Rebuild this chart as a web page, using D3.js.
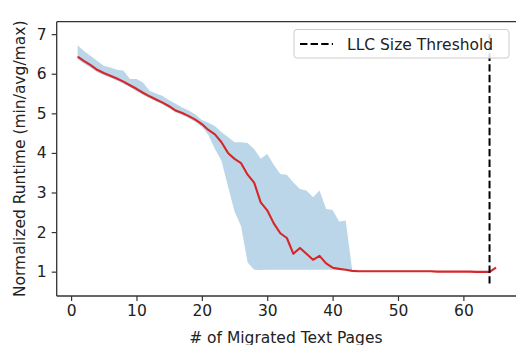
<!DOCTYPE html>
<html><head><meta charset="utf-8">
<script src="https://cdn.jsdelivr.net/npm/d3@7"></script>
<style>
html,body{margin:0;padding:0;background:#fff;}
svg{display:block;font-family:"DejaVu Sans",sans-serif;}
</style></head>
<body>
<svg id="c" width="516" height="345"></svg>
<script>
const pages = d3.range(1, 66);
const avgRuntime = [6.43,6.32,6.22,6.10,6.02,5.95,5.88,5.80,5.71,5.62,
  5.52,5.43,5.35,5.27,5.18,5.07,5.01,4.93,4.84,4.73,
  4.58,4.47,4.27,4.00,3.85,3.74,3.45,3.25,2.75,2.55,
  2.22,1.97,1.85,1.45,1.60,1.45,1.30,1.40,1.21,1.10,
  1.07,1.05,1.02,1.01,1.01,1.01,1.01,1.01,1.01,1.01,
  1.01,1.01,1.01,1.01,1.01,1.00,1.00,1.00,1.00,1.00,
  1.00,0.995,0.995,0.995,1.10];
const maxRuntime = [6.72,6.57,6.45,6.32,6.20,6.16,6.10,6.08,5.87,5.87,
  5.78,5.57,5.50,5.44,5.33,5.24,5.15,5.07,4.97,4.83,
  4.76,4.68,4.52,4.40,4.27,4.27,4.25,4.10,3.85,3.97,
  3.70,3.47,3.45,3.25,3.09,3.05,2.88,3.05,2.58,2.56,
  2.27,2.29,1.03,1.02,1.02,1.02,1.02,1.02,1.02,1.02,
  1.02,1.02,1.02,1.02,1.02,1.01,1.01,1.01,1.01,1.01,
  1.01,1.00,1.00,1.00,1.11];
const minRuntime = [6.37,6.25,6.15,6.04,5.96,5.90,5.83,5.75,5.66,5.56,
  5.46,5.38,5.30,5.22,5.13,5.02,4.96,4.88,4.78,4.66,
  4.45,4.10,3.80,3.15,2.52,2.15,1.23,1.05,1.04,1.05,
  1.05,1.05,1.05,1.05,1.05,1.05,1.05,1.05,1.05,1.05,
  1.05,1.04,1.01,1.00,1.00,1.00,1.00,1.00,1.00,1.00,
  1.00,1.00,1.00,1.00,1.00,0.99,0.99,0.99,0.99,0.99,
  0.99,0.99,0.99,0.99,1.09];
const xTicks = [0,10,20,30,40,50,60];
const yTicks = [1,2,3,4,5,6,7];
const threshold = 64;
const thresholdRange = [0.7, 7.0];
const legendLabel = "LLC Size Threshold";
const xLabel = "# of Migrated Text Pages";
const yLabel = "Normalized Runtime (min/avg/max)";

const svg = d3.select("#c");
const L = 56.7, R = 517, T = 21.7, B = 296;
const x = d3.scaleLinear().domain([-2.2, 68.2]).range([L, R]);
const y = d3.scaleLinear().domain([0.385, 7.315]).range([B, T]);
const fs = 15.5;
const txt = "#222";

const data = pages.map((p,i)=>({p, a:avgRuntime[i], lo:minRuntime[i], hi:maxRuntime[i]}));

svg.append("path").datum(data)
  .attr("d", d3.area().x(d=>x(d.p)).y0(d=>y(d.lo)).y1(d=>y(d.hi)))
  .attr("fill", "#1f77b4").attr("fill-opacity", 0.3);

svg.append("path").datum(data)
  .attr("d", d3.line().x(d=>x(d.p)).y(d=>y(d.a)))
  .attr("fill", "none").attr("stroke", "#d62728").attr("stroke-width", 2.1)
  .attr("stroke-linejoin", "round");

svg.append("line")
  .attr("x1", x(threshold)).attr("x2", x(threshold))
  .attr("y1", y(thresholdRange[0])).attr("y2", y(thresholdRange[1]))
  .attr("stroke", "#000").attr("stroke-width", 2).attr("stroke-dasharray", "7.4,3.2");

// axes
const xAxis = svg.append("g").attr("transform", `translate(0,${B})`)
  .call(d3.axisBottom(x).tickValues(xTicks).tickSize(5).tickPadding(4).tickFormat(d3.format("d")));
const yAxis = svg.append("g").attr("transform", `translate(${L},0)`)
  .call(d3.axisLeft(y).tickValues(yTicks).tickSize(5).tickPadding(5).tickFormat(d3.format("d")));
[xAxis, yAxis].forEach(g=>{
  g.select(".domain").remove();
  g.selectAll(".tick line").attr("stroke", "#333").attr("stroke-width", 1.2);
  g.selectAll(".tick text").attr("fill", txt).style("font-size", fs+"px").style("font-family", "DejaVu Sans");
});
// spines
svg.append("line").attr("x1", L).attr("x2", L).attr("y1", T).attr("y2", B).attr("stroke", "#333").attr("stroke-width", 1.3);
svg.append("line").attr("x1", L).attr("x2", R).attr("y1", B).attr("y2", B).attr("stroke", "#333").attr("stroke-width", 1.3);
svg.append("line").attr("x1", L).attr("x2", R).attr("y1", T).attr("y2", T).attr("stroke", "#333").attr("stroke-width", 1.3);
svg.append("line").attr("x1", R).attr("x2", R).attr("y1", T).attr("y2", B).attr("stroke", "#333").attr("stroke-width", 1.3);

// labels
svg.append("text").attr("x", (L+R)/2 - 1).attr("y", 343).attr("text-anchor", "middle")
  .attr("fill", txt).style("font-size", fs+"px").text(xLabel);
svg.append("text").attr("transform", `translate(25,${(T+B)/2}) rotate(-90)`).attr("text-anchor", "middle")
  .attr("fill", txt).style("font-size", fs+"px").text(yLabel);

// legend
const lg = svg.append("g");
lg.append("rect").attr("x", 294).attr("y", 29.5).attr("width", 215).attr("height", 28.5).attr("rx", 3)
  .attr("fill", "#fff").attr("fill-opacity", 0.85).attr("stroke", "#ccc").attr("stroke-width", 1);
lg.append("line").attr("x1", 300).attr("x2", 333).attr("y1", 44).attr("y2", 44)
  .attr("stroke", "#000").attr("stroke-width", 2).attr("stroke-dasharray", "7.4,3.2");
lg.append("text").attr("x", 347).attr("y", 49.5).attr("fill", txt).style("font-size", fs+"px").text(legendLabel);
</script>
</body></html>
